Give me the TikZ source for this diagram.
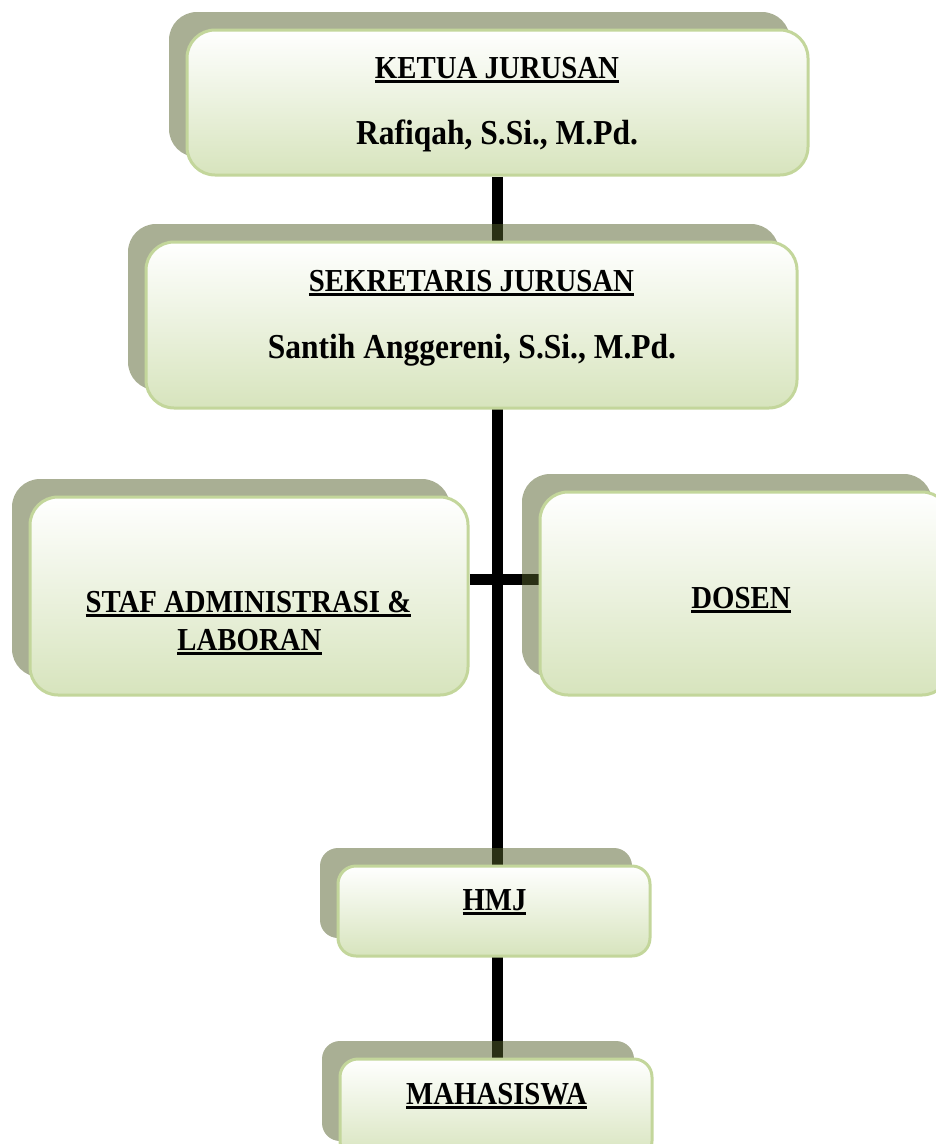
\documentclass[tikz,border=0pt]{standalone}
\usepackage{fontspec}
\setmainfont{Liberation Serif}[FakeStretch=0.9]
\newcommand\ulx[1]{\setbox0\hbox{#1}\rlap{\rule[-4.5pt]{\wd0}{2.6pt}}\box0}
\definecolor{shadowc}{RGB}{84,96,42}
\definecolor{edgec}{RGB}{195,214,155}
\definecolor{botc}{RGB}{215,228,189}
\pgfdeclarelayer{bg}\pgfdeclarelayer{mid}\pgfsetlayers{bg,mid,main}
\begin{document}
\begin{tikzpicture}[x=1pt,y=-1pt,
  frontbox/.style={rounded corners=28pt, draw=edgec, line width=3pt, top color=white, bottom color=botc, inner sep=0pt},
  shadowbox/.style={rounded corners=28pt, fill=shadowc, fill opacity=0.5, inner sep=0pt},
  txt/.style={font=\fontsize{32}{38}\selectfont\bfseries, anchor=base, inner sep=0pt},
  nametxt/.style={txt, font=\fontsize{35}{42}\selectfont\bfseries},
  conn/.style={line width=11pt, black}]
\useasboundingbox (0,0) rectangle (936,1144);
\clip (0,0) rectangle (936,1144);
% front boxes
\node[frontbox, minimum width=621pt, minimum height=145pt] (ketua) at (497.5,102.5) {};
\node[frontbox, minimum width=651pt, minimum height=166pt] (sek) at (471.5,325) {};
\node[frontbox, minimum width=438pt, minimum height=198pt] (staf) at (249,596) {};
\node[frontbox, minimum width=410pt, minimum height=203pt] (dosen) at (745,593.5) {};
\node[frontbox, rounded corners=18pt, minimum width=312pt, minimum height=90pt] (hmj) at (494,911) {};
\node[frontbox, rounded corners=18pt, minimum width=312pt, minimum height=100pt] (mhs) at (496,1109) {};
% shadows
\begin{pgfonlayer}{mid}
\node[shadowbox, minimum width=621pt, minimum height=145pt] (ketuash) at (479.5,84.5) {};
\node[shadowbox, minimum width=651pt, minimum height=166pt] (seksh) at (453.5,307) {};
\node[shadowbox, minimum width=438pt, minimum height=198pt] (stafsh) at (231,578) {};
\node[shadowbox, minimum width=410pt, minimum height=203pt] (dosensh) at (727,575.5) {};
\node[shadowbox, rounded corners=18pt, minimum width=312pt, minimum height=90pt] (hmjsh) at (476,893) {};
\node[shadowbox, rounded corners=18pt, minimum width=312pt, minimum height=100pt] (mhssh) at (478,1091) {};
\end{pgfonlayer}
% connectors
\begin{pgfonlayer}{bg}
\coordinate (cross) at (497,579);
\draw[conn] (ketua.south -| cross) -- (mhs.north -| cross);
\draw[conn] (staf.east |- cross) -- (dosen.west |- cross);
\end{pgfonlayer}
% texts
\node[txt] (t1) at (497,78) {\ulx{KETUA JURUSAN}};
\node[nametxt] (t2) at (497,144) {Rafiqah, S.Si., M.Pd.};
\node[txt] (t3) at (471.5,291) {\ulx{SEKRETARIS JURUSAN}};
\node[nametxt] (t4) at (472,358) {Santih Anggereni, S.Si., M.Pd.};
\node[txt] (t5) at (248.5,612) {\ulx{STAF ADMINISTRASI \&}};
\node[txt] (t6) at (249.5,650) {\ulx{LABORAN}};
\node[txt] (t7) at (741,608) {\ulx{DOSEN}};
\node[txt] (t8) at (494.5,910) {\ulx{HMJ}};
\node[txt] (t9) at (496.5,1104) {\ulx{MAHASISWA}};
\end{tikzpicture}
\end{document}
